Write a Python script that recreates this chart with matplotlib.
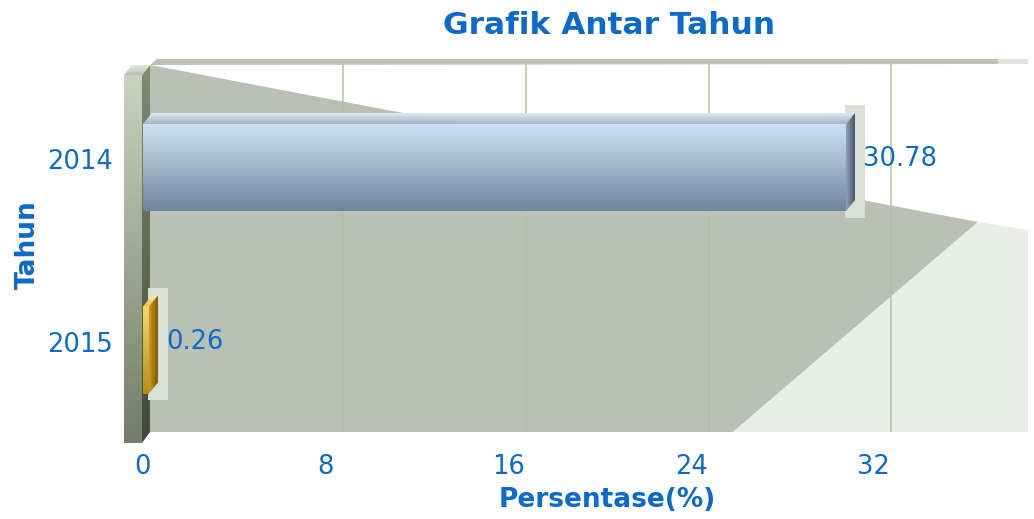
import numpy as np
import matplotlib
matplotlib.use("Agg")
import matplotlib.pyplot as plt
from matplotlib.patches import Polygon, Rectangle
from matplotlib.colors import to_rgb
from matplotlib.transforms import ScaledTranslation

# data
years = ["2014", "2015"]
values = [30.78, 0.26]
xticks = [0, 8, 16, 24, 32]

# bar colours (front top, front bottom, top face light, top face dark, side light, side dark)
bar_styles = [
    ("#d0e3f6", "#6c869d", "#e2e8ef", "#a3b5ca", "#8ea3b6", "#42546a"),
    ("#f6d76a", "#b68d16", "#fbeaa8", "#e8c24a", "#c99d22", "#7a5906"),
]

text_blue = "#0b6acb"
W, H = 1034, 519

fig = plt.figure(figsize=(W / 100, H / 100), dpi=100)

# background decoration in pixel coordinates
bg = fig.add_axes([0, 0, 1, 1])
bg.set_xlim(0, W)
bg.set_ylim(H, 0)
bg.axis("off")


def grad_poly(ax, verts, c1, c2, vertical=True, zorder=1):
    verts = np.asarray(verts, float)
    n = 128
    t = np.linspace(0, 1, n)
    a, b = np.array(to_rgb(c1)), np.array(to_rgb(c2))
    col = a[None, :] * (1 - t[:, None]) + b[None, :] * t[:, None]
    img = col[:, None, :] if vertical else col[None, :, :]
    x0, x1 = verts[:, 0].min(), verts[:, 0].max()
    y0, y1 = verts[:, 1].min(), verts[:, 1].max()
    ylo, yhi = ax.get_ylim()
    if ylo > yhi:
        ext = [x0, x1, y1, y0]
    else:
        ext = [x0, x1, y0, y1]
        img = img[::-1] if vertical else img
    im = ax.imshow(img, extent=ext, origin="upper", aspect="auto",
                   interpolation="bilinear", zorder=zorder)
    p = Polygon(verts, closed=True, transform=ax.transData, facecolor="none",
                edgecolor="none")
    ax.add_patch(p)
    im.set_clip_path(p)
    return im


# canvas back wall: white, shadowed and lit parts
bg.add_patch(Polygon([(150, 64), (1028, 64), (1028, 432), (150, 432)],
                     facecolor="white", edgecolor="none", zorder=1))
bg.add_patch(Polygon([(150, 65), (978, 222), (733, 432), (150, 432)],
                     facecolor="#b9c0b4", edgecolor="none", zorder=2))
bg.add_patch(Polygon([(978, 222), (1028, 230), (1028, 432), (733, 432)],
                     facecolor="#ebeee7", edgecolor="none", zorder=2))
bg.add_patch(Polygon([(150, 65), (157, 59), (998, 59), (998, 64)],
                     facecolor="#bcc3b5", edgecolor="none", zorder=2))
bg.add_patch(Polygon([(998, 59), (1028, 59), (1028, 64), (998, 64)],
                     facecolor="#dfe3da", edgecolor="none", zorder=2))

# left 3d wall
grad_poly(bg, [(124, 75), (142, 75), (142, 443), (124, 443)],
          "#cad2be", "#737e68", zorder=3)
grad_poly(bg, [(142, 75), (150, 65), (150, 432), (142, 443)],
          "#818b70", "#434838", zorder=3)
grad_poly(bg, [(124, 75), (132, 65), (150, 65), (142, 75)],
          "#e6eadf", "#b8bfae", zorder=3)

bg.set_xlim(0, W)
bg.set_ylim(H, 0)

# data axes (front plane)
px_per_unit = 22.84
xmax = (1028 - 143) / px_per_unit
cat_px = 182.5
ylim_top = (64 - 167.5) / cat_px
ylim_bot = (432 - 167.5) / cat_px

ax = fig.add_axes([143 / W, (H - 432) / H, (1028 - 143) / W, (432 - 64) / H])
ax.set_xlim(0, xmax)
ax.set_ylim(ylim_bot, ylim_top)
ax.patch.set_visible(False)
for s in ax.spines.values():
    s.set_visible(False)

# gridlines sit on the back wall, shifted right
grid_shift = ScaledTranslation(17.5 / 100, 0, fig.dpi_scale_trans)
for xt in xticks[1:]:
    ax.plot([xt, xt], [ylim_bot, ylim_top], color="#b4c2a2", lw=1.1,
            transform=ax.transData + grid_shift, zorder=1)

h = 0.477
dx = 9 / px_per_unit
dy = 11 / cat_px
ypos = np.arange(len(years))

for k, v, st in zip(ypos, values, bar_styles):
    ftop, fbot, tl, td, sl, sd = st
    # soft glow behind bar end
    ax.add_patch(Rectangle((v - 0.05, k - 0.34), 0.9, 0.615,
                           facecolor="#dcdfd6", edgecolor="none", zorder=2))
    t, b = k - h / 2, k + h / 2
    grad_poly(ax, [(0, t), (v, t), (v, b), (0, b)], ftop, fbot, zorder=4)
    grad_poly(ax, [(0, t), (v, t), (v + dx, t - dy), (dx, t - dy)],
              tl, td, zorder=4)
    grad_poly(ax, [(v, t), (v + dx, t - dy), (v + dx, b - dy), (v, b)],
              sl, sd, vertical=False, zorder=4)

ax.set_xlim(0, xmax)
ax.set_ylim(ylim_bot, ylim_top)

for k, v in zip(ypos, values):
    ax.text(v, k, f"{v:.2f}", ha="left", va="center", fontsize=18.5,
            color=text_blue,
            transform=ax.transData + ScaledTranslation(17 / 100, 8 / 100,
                                                       fig.dpi_scale_trans),
            zorder=6)

ax.set_xticks(xticks)
ax.set_xticklabels([str(x) for x in xticks])
ax.set_yticks(ypos)
ax.set_yticklabels(years)
ax.tick_params(axis="both", length=0, labelsize=18.5, labelcolor=text_blue)
ax.tick_params(axis="x", pad=16)
ax.tick_params(axis="y", pad=22)
up = ScaledTranslation(0, 8 / 100, fig.dpi_scale_trans)
for lab in ax.get_yticklabels():
    lab.set_transform(lab.get_transform() + up)

fig.text(609 / W, 1 - 26 / H, "Grafik Antar Tahun", ha="center", va="center",
         fontsize=22.5, fontweight="bold", color=text_blue)
fig.text(607 / W, 1 - 500 / H, "Persentase(%)", ha="center", va="center",
         fontsize=19, fontweight="bold", color=text_blue)
fig.text(28 / W, 1 - 245 / H, "Tahun", ha="center", va="center",
         fontsize=19, fontweight="bold", color=text_blue, rotation=90)

fig.savefig("out.png", dpi=100)
